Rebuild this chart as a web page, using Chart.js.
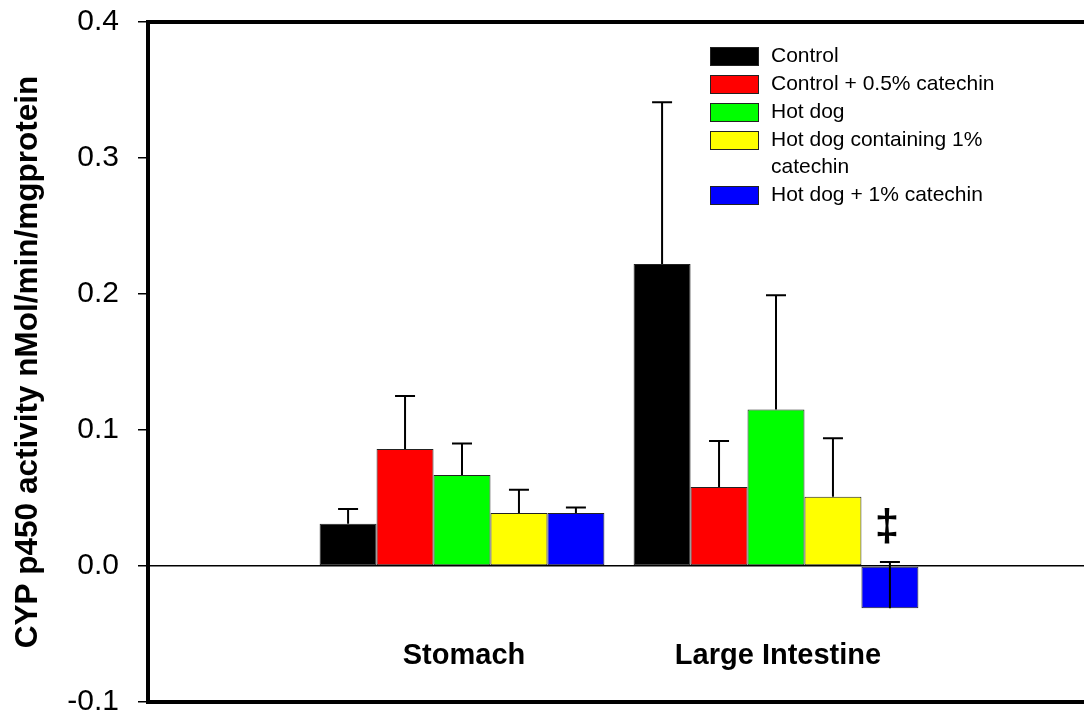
<!DOCTYPE html>
<html>
<head>
<meta charset="utf-8">
<script src="https://cdn.jsdelivr.net/npm/chart.js@4.4.0/dist/chart.umd.min.js"></script>
<style>
  html, body { margin: 0; padding: 0; background: #fff; overflow: hidden; }
  #wrap { width: 1096px; height: 716px; }
</style>
</head>
<body>
<div id="wrap"><canvas id="chart" width="1096" height="716"></canvas></div>
<script>
// values
const groups = ['', 'Stomach', 'Large Intestine', ''];
const seriesNames = ['Control', 'Control + 0.5% catechin', 'Hot dog', 'Hot dog containing 1% catechin', 'Hot dog + 1% catechin'];
const seriesColors = ['#000000', '#ff0000', '#00ff00', '#ffff00', '#0000ff'];

const control      = [null, 0.031, 0.222, null];
const controlCat   = [null, 0.086, 0.058, null];
const hotDog       = [null, 0.067, 0.115, null];
const hotDogIncl   = [null, 0.039, 0.051, null];
const hotDogPlus   = [null, 0.039, -0.031, null];

// upper error bar lengths (SEM)
const controlErr    = [null, 0.011, 0.119, null];
const controlCatErr = [null, 0.039, 0.034, null];
const hotDogErr     = [null, 0.023, 0.084, null];
const hotDogInclErr = [null, 0.017, 0.043, null];
const hotDogPlusErr = [null, 0.004, 0.034, null];

const yTicks = [-0.1, 0.0, 0.1, 0.2, 0.3, 0.4];

const seriesValues = [control, controlCat, hotDog, hotDogIncl, hotDogPlus];
const seriesErrors = [controlErr, controlCatErr, hotDogErr, hotDogInclErr, hotDogPlusErr];

const FONT = '"Liberation Sans", Arial, Helvetica, sans-serif';

/* ── error bars, category labels, frame, legend ── */
const extras = {
  id: 'extras',
  afterDatasetsDraw(chart) {
    const { ctx, chartArea, scales } = chart;
    const y = scales.y;
    ctx.save();

    // error bars: drawn from the bar value upwards
    ctx.strokeStyle = '#000';
    ctx.lineWidth = 2;
    chart.data.datasets.forEach((ds, di) => {
      const meta = chart.getDatasetMeta(di);
      meta.data.forEach((bar, i) => {
        const v = ds.data[i], e = ds.errors[i];
        if (v == null || e == null) return;
        const y0 = y.getPixelForValue(v), y1 = y.getPixelForValue(v + e);
        ctx.beginPath();
        ctx.moveTo(bar.x, y0); ctx.lineTo(bar.x, y1);
        ctx.moveTo(bar.x - 10, y1); ctx.lineTo(bar.x + 10, y1);
        ctx.stroke();
      });
    });

    // significance mark over Hot dog + 1% catechin, large intestine
    const last = chart.getDatasetMeta(4).data[2];
    const top = y.getPixelForValue(hotDogPlus[2] + hotDogPlusErr[2]);
    ctx.fillStyle = '#000';
    ctx.font = 'bold 44px ' + FONT;
    ctx.textAlign = 'center';
    ctx.textBaseline = 'middle';
    ctx.fillText('\u2021', last.x - 3, top - 34);

    // group names inside the plot
    ctx.font = 'bold 29px ' + FONT;
    groups.forEach((g, i) => {
      if (!g) return;
      ctx.fillText(g, scales.x.getPixelForTick(i) + 2, chartArea.bottom - 46);
    });

    // top frame line
    ctx.lineWidth = 4;
    ctx.beginPath();
    ctx.moveTo(chartArea.left - 2, chartArea.top);
    ctx.lineTo(chartArea.right, chartArea.top);
    ctx.stroke();

    // legend
    const lx = 710, boxW = 49, boxH = 19, rowH = 28, lineH = 27;
    let ly = 47;
    ctx.font = '21px ' + FONT;
    ctx.textAlign = 'left';
    chart.data.datasets.forEach(ds => {
      ctx.fillStyle = ds.backgroundColor;
      ctx.fillRect(lx, ly, boxW, boxH);
      ctx.lineWidth = 1;
      ctx.strokeStyle = '#222';
      ctx.strokeRect(lx + 0.5, ly + 0.5, boxW - 1, boxH - 1);
      // simple word wrap
      const words = ds.label.split(' ');
      const lines = [];
      let cur = '';
      words.forEach(w => {
        const t = cur ? cur + ' ' + w : w;
        if (ctx.measureText(t).width > 240 && cur) { lines.push(cur); cur = w; }
        else cur = t;
      });
      lines.push(cur);
      ctx.fillStyle = '#000';
      lines.forEach((ln, k) => ctx.fillText(ln, lx + 61, ly + boxH / 2 + k * lineH));
      ly += rowH + (lines.length - 1) * lineH;
    });

    ctx.restore();
  }
};

new Chart(document.getElementById('chart'), {
  type: 'bar',
  data: {
    labels: groups,
    datasets: seriesNames.map((name, i) => ({
      label: name,
      data: seriesValues[i],
      errors: seriesErrors[i],
      backgroundColor: seriesColors[i],
      borderColor: '#222',
      borderWidth: 1,
      borderSkipped: false,
      categoryPercentage: 0.907,
      barPercentage: 1.0,
    })),
  },
  options: {
    responsive: false,
    animation: false,
    devicePixelRatio: 1,
    layout: { padding: { left: 0, right: 6, top: 22, bottom: 14 } },
    plugins: { legend: { display: false }, tooltip: { enabled: false } },
    scales: {
      x: {
        type: 'category',
        offset: false,
        grid: { display: false, drawTicks: false },
        ticks: { display: false },
        border: { display: true, color: '#000', width: 4 },
        afterFit: scale => {
          scale.height = 0;
          scale.paddingLeft = 0; scale.paddingRight = 0;
        },
      },
      y: {
        min: -0.1,
        max: 0.4,
        afterBuildTicks: scale => { scale.ticks = yTicks.map(v => ({ value: v })); },
        afterFit: scale => {
          scale.width = 148;
          scale.paddingTop = 0; scale.paddingBottom = 0;
        },
        ticks: {
          color: '#000',
          padding: 19,
          font: { family: FONT, size: 30 },
          callback: v => v.toFixed(1),
        },
        grid: {
          color: c => (c.tick && Math.abs(c.tick.value) < 1e-9 ? '#000' : 'rgba(0,0,0,0)'),
          lineWidth: 1.5,
          tickColor: '#000',
          tickWidth: 1.5,
          tickLength: 10,
        },
        border: { display: true, color: '#000', width: 4 },
        title: {
          display: true,
          text: 'CYP p450 activity nMol/min/mgprotein',
          color: '#000',
          font: { family: FONT, size: 31.5, weight: 'bold' },
          padding: { top: 9, bottom: 0 },
        },
      },
    },
  },
  plugins: [extras],
});
</script>
</body>
</html>
